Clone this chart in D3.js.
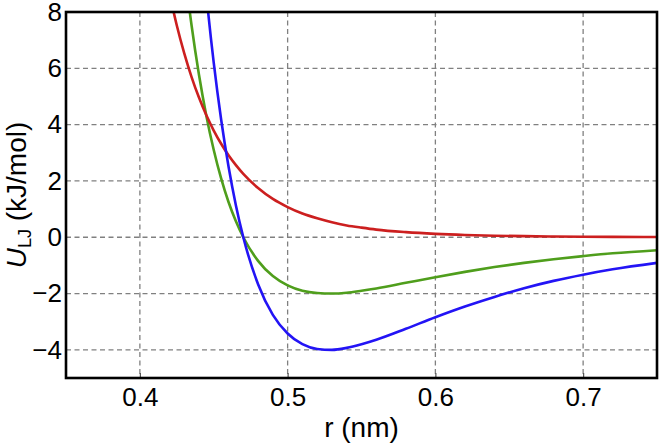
<!DOCTYPE html>
<html>
<head>
<meta charset="utf-8">
<script src="https://cdn.jsdelivr.net/npm/d3@7"></script>
<style>
  html, body { margin: 0; padding: 0; background: #fff; }
  svg { display: block; font-family: "Liberation Sans", Arial, sans-serif; }
</style>
</head>
<body>
<svg id="chart" width="660" height="443"></svg>
<script>
// r values (nm)
const rValues = [0.42, 0.425, 0.43, 0.435, 0.44, 0.445, 0.45, 0.455, 0.46, 0.465, 0.47,
  0.48, 0.49, 0.50, 0.51, 0.52, 0.53, 0.54, 0.55, 0.56, 0.58, 0.60, 0.62, 0.64, 0.66,
  0.68, 0.70, 0.72, 0.75];
// U (kJ/mol) for each curve
const redValues = [8.67, 7.52, 6.54, 5.69, 4.96, 4.33, 3.79, 3.32, 2.91, 2.56, 2.25,
  1.75, 1.36, 1.07, 0.84, 0.67, 0.53, 0.42, 0.34, 0.27, 0.18, 0.12, 0.08, 0.055, 0.038,
  0.027, 0.019, 0.013, 0.008];
const greenValues = [15.14, 12.14, 9.62, 7.52, 5.77, 4.31, 3.10, 2.09, 1.25, 0.565, 0,
  -0.84, -1.38, -1.71, -1.90, -1.98, -2.00, -1.97, -1.90, -1.82, -1.62, -1.42, -1.23, -1.06, -0.91,
  -0.78, -0.67, -0.57, -0.46];
const blueValues = [30.28, 24.27, 19.24, 15.04, 11.54, 8.62, 6.19, 4.18, 2.51, 1.13, 0,
  -1.67, -2.76, -3.42, -3.80, -3.97, -4.00, -3.93, -3.80, -3.64, -3.25, -2.84, -2.46, -2.12, -1.81,
  -1.55, -1.33, -1.14, -0.91];
const xTicks = [0.4, 0.5, 0.6, 0.7];
const yTicks = [-4, -2, 0, 2, 4, 6, 8];
const yGrid = [-4, -2, 0, 2, 4, 6];
const seriesColors = ["#4f9e1c", "#cc1f1f", "#2314f5"];

const svg = d3.select("#chart");
const pLeft = 66, pRight = 657, pTop = 12, pBottom = 378;

const x = d3.scaleLinear().domain([0.35, 0.75]).range([pLeft, pRight]);
const y = d3.scaleLinear().domain([-5, 8]).range([pBottom, pTop]);

svg.append("defs").append("clipPath").attr("id", "clip")
  .append("rect").attr("x", pLeft).attr("y", pTop)
  .attr("width", pRight - pLeft).attr("height", pBottom - pTop);

// grid
const grid = svg.append("g").attr("stroke", "#808080").attr("stroke-width", 1.3)
  .attr("stroke-dasharray", "5,3.5");
grid.selectAll("line.v").data(xTicks).join("line").attr("class", "v")
  .attr("x1", d => x(d)).attr("x2", d => x(d))
  .attr("y1", pTop).attr("y2", pBottom);
grid.selectAll("line.h").data(yGrid).join("line").attr("class", "h")
  .attr("y1", d => y(d)).attr("y2", d => y(d))
  .attr("x1", pLeft).attr("x2", pRight);

// curves
const series = [greenValues, redValues, blueValues];
const line = d3.line()
  .x((d, i) => x(rValues[i]))
  .y(d => y(d))
  .curve(d3.curveMonotoneX);
const curves = svg.append("g").attr("clip-path", "url(#clip)");
series.forEach((vals, k) => {
  curves.append("path").datum(vals)
    .attr("d", line)
    .attr("fill", "none")
    .attr("stroke", seriesColors[k])
    .attr("stroke-width", 2.6)
    .attr("stroke-linejoin", "round");
});

// axes with inward ticks
const xAxis = d3.axisBottom(x).tickValues(xTicks).tickSize(-5).tickPadding(10)
  .tickFormat(d3.format(".1f"));
const gx = svg.append("g").attr("transform", `translate(0,${pBottom})`).call(xAxis);
gx.select(".domain").remove();
gx.selectAll(".tick line").attr("stroke", "#555").attr("stroke-width", 1.2);
gx.selectAll(".tick text").attr("font-size", 26).attr("fill", "#000")
  .attr("font-family", "Liberation Sans, Arial, sans-serif");

const yAxis = d3.axisLeft(y).tickValues(yTicks).tickSize(0).tickPadding(4)
  .tickFormat(d => d < 0 ? "\u2212" + Math.abs(d) : String(d));
const gy = svg.append("g").attr("transform", `translate(${pLeft},0)`).call(yAxis);
gy.select(".domain").remove();
gy.selectAll(".tick text").attr("font-size", 26).attr("fill", "#000")
  .attr("font-family", "Liberation Sans, Arial, sans-serif");

// frame
svg.append("rect").attr("x", pLeft).attr("y", pTop)
  .attr("width", pRight - pLeft).attr("height", pBottom - pTop)
  .attr("fill", "none").attr("stroke", "#000").attr("stroke-width", 2.6);

// axis labels
svg.append("text").attr("x", (pLeft + pRight) / 2).attr("y", 437)
  .attr("text-anchor", "middle").attr("font-size", 28).text("r (nm)");

const yl = svg.append("text")
  .attr("transform", `translate(26,${(pTop + pBottom) / 2}) rotate(-90)`)
  .attr("text-anchor", "middle").attr("font-size", 28);
yl.append("tspan").attr("font-style", "italic").text("U");
yl.append("tspan").attr("font-size", 18).attr("dy", 5).text("LJ");
yl.append("tspan").attr("dy", -5).text(" (kJ/mol)");
</script>
</body>
</html>
